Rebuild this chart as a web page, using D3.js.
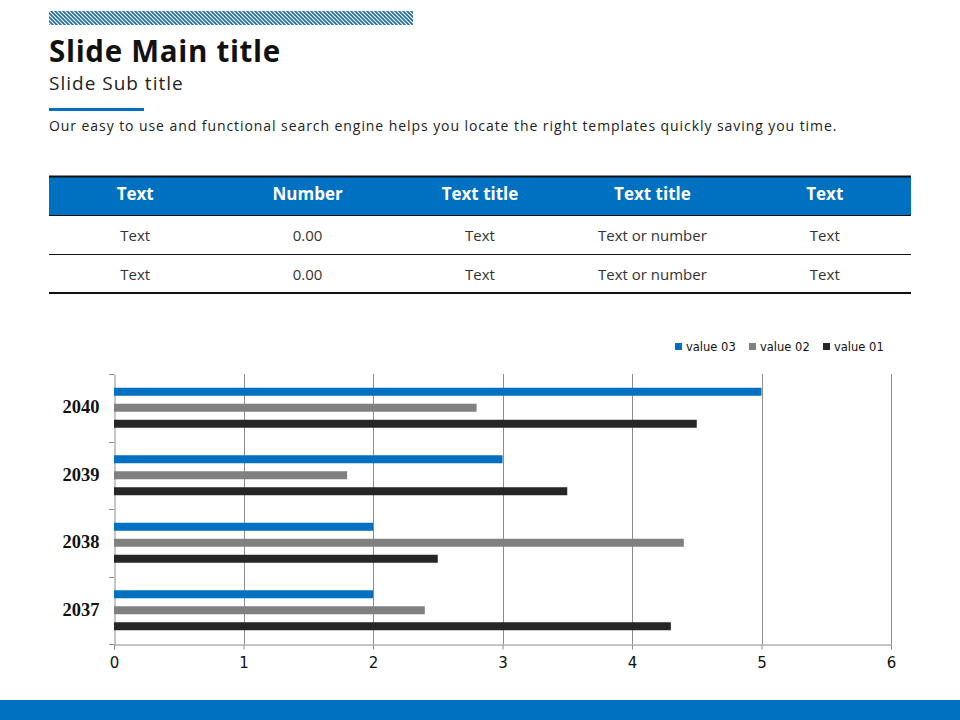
<!DOCTYPE html>
<html><head><meta charset="utf-8">
<script src="https://cdn.jsdelivr.net/npm/d3@7"></script>
<style>body{margin:0;background:#fff}svg{display:block}</style>
</head><body>
<script>
const categories = ["2040", "2039", "2038", "2037"];
const seriesNames = ["value 03", "value 02", "value 01"];
const value03 = [5, 3, 2, 2];
const value02 = [2.8, 1.8, 4.4, 2.4];
const value01 = [4.5, 3.5, 2.5, 4.3];
const xTicks = [0, 1, 2, 3, 4, 5, 6];
const tableHeader = ["Text", "Number", "Text title", "Text title", "Text"];
const tableRows = [["Text", "0.00", "Text", "Text or number", "Text"], ["Text", "0.00", "Text", "Text or number", "Text"]];
const colors = {"value 03": "#0070C0", "value 02": "#808080", "value 01": "#262626"};
const seriesValues = {"value 03": value03, "value 02": value02, "value 01": value01};

const W = 960, H = 720;
const svg = d3.select("body").append("svg").attr("width", W).attr("height", H);
const font = "'Open Sans', 'Noto Sans', sans-serif";

// hatch pattern
const defs = svg.append("defs");
const pat = defs.append("pattern").attr("id", "hatch").attr("patternUnits", "userSpaceOnUse")
  .attr("width", 4).attr("height", 4);
pat.append("rect").attr("width", 4).attr("height", 4).attr("fill", "#fff");
pat.append("path").attr("d", "M-1,-1 L5,5 M-1,3 L1,5 M3,-1 L5,1").attr("stroke", "#1a6aa3").attr("stroke-width", 1.6);
svg.append("rect").attr("x", 49).attr("y", 11).attr("width", 364).attr("height", 14).attr("fill", "url(#hatch)");

svg.append("text").attr("x", 49).attr("y", 62).text("Slide Main title")
  .attr("font-family", font).attr("font-weight", 700).attr("font-size", 29.5).attr("letter-spacing", 0.7).attr("fill", "#111");
svg.append("text").attr("x", 49).attr("y", 90).text("Slide Sub title")
  .attr("font-family", font).attr("font-size", 19).attr("letter-spacing", 1).attr("fill", "#222");
svg.append("rect").attr("x", 49).attr("y", 108).attr("width", 95).attr("height", 3).attr("fill", "#0070C0");
svg.append("text").attr("x", 49).attr("y", 131)
  .text("Our easy to use and functional search engine helps you locate the right templates quickly saving you time.")
  .attr("font-family", font).attr("font-size", 14).attr("letter-spacing", 0.93).attr("fill", "#222");

// table
const tx = d3.scaleBand().domain(d3.range(5)).range([49, 911]);
svg.append("rect").attr("x", 49).attr("y", 176).attr("width", 862).attr("height", 39).attr("fill", "#0070C0");
svg.append("line").attr("x1", 49).attr("x2", 911).attr("y1", 176.5).attr("y2", 176.5).attr("stroke", "#111").attr("stroke-width", 2);
svg.append("line").attr("x1", 49).attr("x2", 911).attr("y1", 215.5).attr("y2", 215.5).attr("stroke", "#111").attr("stroke-width", 1);
svg.selectAll(".th").data(tableHeader).join("text")
  .attr("x", (d, i) => tx(i) + tx.bandwidth() / 2).attr("y", 200).attr("text-anchor", "middle")
  .attr("font-family", font).attr("font-weight", 700).attr("font-size", 17).attr("fill", "#fff").text(d => d);
tableRows.forEach((row, r) => {
  svg.selectAll(".tr" + r).data(row).join("text")
    .attr("x", (d, i) => tx(i) + tx.bandwidth() / 2).attr("y", 241 + r * 39).attr("text-anchor", "middle")
    .attr("font-family", font).attr("font-size", 15).attr("fill", "#333").text(d => d);
});
svg.append("line").attr("x1", 49).attr("x2", 911).attr("y1", 254.5).attr("y2", 254.5).attr("stroke", "#111").attr("stroke-width", 1);
svg.append("line").attr("x1", 49).attr("x2", 911).attr("y1", 293).attr("y2", 293).attr("stroke", "#111").attr("stroke-width", 2);

// chart
const x = d3.scaleLinear().domain([0, 6]).range([114, 891]);
const y = d3.scaleBand().domain(categories).range([374, 644]);
const ys = d3.scaleBand().domain(seriesNames).range([0, y.bandwidth()]).paddingInner(0.5).paddingOuter(0.86);

const grid = svg.append("g");
grid.selectAll("line").data(xTicks.slice(1)).join("line")
  .attr("x1", d => Math.round(x(d)) + 0.5).attr("x2", d => Math.round(x(d)) + 0.5)
  .attr("y1", 374).attr("y2", 644).attr("stroke", "#8c8c8c").attr("stroke-width", 1);

const xAxis = svg.append("g").attr("transform", "translate(0,644.5)")
  .call(d3.axisBottom(x).tickValues(xTicks).tickSize(5).tickPadding(8).tickFormat(d3.format("d")));
xAxis.select(".domain").attr("stroke", "#8c8c8c");
xAxis.selectAll(".tick line").attr("stroke", "#8c8c8c");
xAxis.selectAll("text").attr("font-family", "'DejaVu Sans', sans-serif").attr("font-size", 15).attr("fill", "#111");

const yAxis = svg.append("g").attr("transform", "translate(114.5,0)")
  .call(d3.axisLeft(y).tickSize(0).tickPadding(15));
yAxis.select(".domain").attr("stroke", "#8c8c8c");
yAxis.selectAll("text").attr("font-family", "'Liberation Serif', serif").attr("font-weight", 700).attr("font-size", 18.5).attr("dy", "0.3em").attr("fill", "#111");
// category boundary ticks
svg.append("g").selectAll("line").data(categories.concat(["end"])).join("line")
  .attr("x1", 109).attr("x2", 114)
  .attr("y1", (d, i) => Math.round(374 + i * y.step()) + 0.5).attr("y2", (d, i) => Math.round(374 + i * y.step()) + 0.5)
  .attr("stroke", "#8c8c8c");

const barsG = svg.append("g");
categories.forEach((c, ci) => {
  seriesNames.forEach(s => {
    barsG.append("rect").attr("x", x(0)).attr("y", y(c) + ys(s))
      .attr("width", x(seriesValues[s][ci]) - x(0)).attr("height", ys.bandwidth()).attr("fill", colors[s]);
  });
});

// legend
const legendX = [675, 749, 823];
const lg = svg.append("g");
seriesNames.forEach((s, i) => {
  lg.append("rect").attr("x", legendX[i]).attr("y", 343).attr("width", 7).attr("height", 7).attr("fill", colors[s]);
  lg.append("text").attr("x", legendX[i] + 11).attr("y", 351).text(s)
    .attr("font-family", "'DejaVu Sans', sans-serif").attr("font-size", 11.5).attr("fill", "#111");
});

svg.append("rect").attr("x", 0).attr("y", 700).attr("width", W).attr("height", 20).attr("fill", "#0070C0");
</script>
</body></html>
